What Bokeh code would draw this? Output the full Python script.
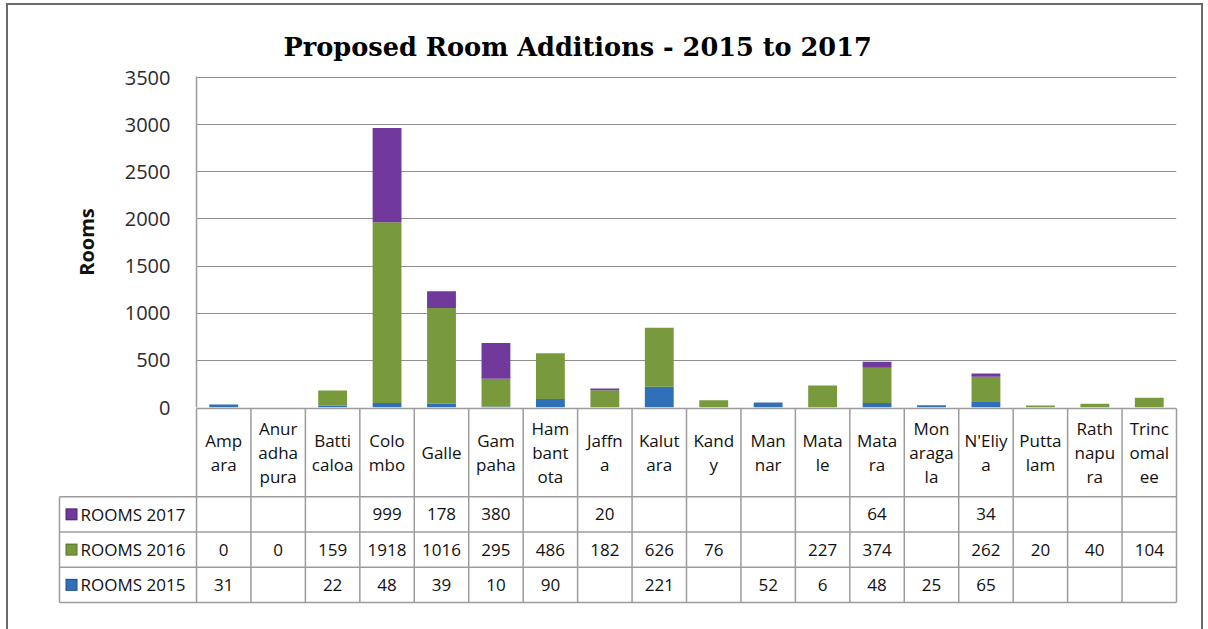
import numpy as np
from bokeh.plotting import figure
from bokeh.models import ColumnDataSource, Range1d, FixedTicker
from bokeh.layouts import column
from bokeh.embed import file_html
from bokeh.resources import INLINE
from bokeh.core.properties import value

# ---------------- data ----------------
districts = ["Ampara", "Anuradhapura", "Batticaloa", "Colombo", "Galle", "Gampaha",
             "Hambantota", "Jaffna", "Kalutara", "Kandy", "Mannar", "Matale", "Matara",
             "Monaragala", "N'Eliya", "Puttalam", "Rathnapura", "Trincomalee"]
district_labels = ["Amp\nara", "Anur\nadha\npura", "Batti\ncaloa", "Colo\nmbo", "Galle",
                   "Gam\npaha", "Ham\nbant\nota", "Jaffn\na", "Kalut\nara", "Kand\ny",
                   "Man\nnar", "Mata\nle", "Mata\nra", "Mon\naraga\nla", "N'Eliy\na",
                   "Putta\nlam", "Rath\nnapu\nra", "Trinc\nomal\nee"]
rooms_2015 = [31, None, 22, 48, 39, 10, 90, None, 221, None, 52, 6, 48, 25, 65, None, None, None]
rooms_2016 = [0, 0, 159, 1918, 1016, 295, 486, 182, 626, 76, None, 227, 374, None, 262, 20, 40, 104]
rooms_2017 = [None, None, None, 999, 178, 380, None, 20, None, None, None, None, 64, None, 34, None, None, None]
series_names = ["ROOMS 2015", "ROOMS 2016", "ROOMS 2017"]
y_ticks = [0, 500, 1000, 1500, 2000, 2500, 3000, 3500]
title_text = "Proposed Room Additions - 2015 to 2017"
y_label = "Rooms"

# ---------------- styling ----------------
colors = ["#3070B8", "#799A3C", "#72399C"]
edges = ["#1F4E85", "#56702A", "#4E2570"]
FONT = "Open Sans"
GRID = "#8f8f8f"
TLINE = "#9c9c9c"

n = len(districts)
W = 1193
FRAME_L = 188          # px from content left to plot frame
FRAME_W = 980
colw = FRAME_W / n     # px per category
GAP = 12               # px of top canvas below the frame (room for the "0" label)

def nz(a):
    return [0 if v is None else v for v in a]

xs = np.arange(n) + 0.5
src = ColumnDataSource(dict(x=xs, r2015=nz(rooms_2015), r2016=nz(rooms_2016), r2017=nz(rooms_2017)))

# ---------------- top chart ----------------
frame_h = 331
top_h = 71 + frame_h + GAP
y_top = y_ticks[-1] + y_ticks[-1] / 330.0
p = figure(width=W, height=top_h, output_backend="svg", toolbar_location=None,
           x_range=Range1d(0, n), y_range=Range1d(0, y_top),
           min_border_left=FRAME_L, min_border_right=W - FRAME_L - FRAME_W,
           min_border_top=71, min_border_bottom=GAP)
p.outline_line_color = None
p.xaxis.visible = False
p.xgrid.visible = False
p.ygrid.ticker = FixedTicker(ticks=y_ticks)
p.ygrid.grid_line_color = GRID
p.ygrid.grid_line_width = 1
p.yaxis.ticker = FixedTicker(ticks=y_ticks)
p.yaxis.axis_line_color = TLINE
p.yaxis.axis_line_width = 1.5
p.yaxis.major_tick_line_color = None
p.yaxis.minor_tick_line_color = None
p.yaxis.major_tick_out = 0
p.yaxis.major_tick_in = 0
p.yaxis.major_label_standoff = 26
p.yaxis.major_label_text_font = FONT
p.yaxis.major_label_text_font_size = "20px"
p.yaxis.major_label_text_color = "#2b2b2b"
p.yaxis.axis_label = y_label
p.yaxis.axis_label_text_font = FONT
p.yaxis.axis_label_text_font_size = "20px"
p.yaxis.axis_label_text_font_style = "bold"
p.yaxis.axis_label_text_color = "#111111"
p.yaxis.axis_label_standoff = 22

p.title.text = title_text
p.title.text_font = "DejaVu Serif"
p.title.text_font_style = "bold"
p.title.text_font_size = "25.6px"
p.title.text_color = "#000000"
p.title.align = "left"
p.title.offset = 87
p.title.standoff = 29

p.vbar_stack(["r2015", "r2016", "r2017"], x="x", width=0.53, source=src,
             fill_color=colors, line_color=None)

# ---------------- data table (overlaps the top canvas by GAP px) ----------------
bot_h = 222
px_row = 194 / 5.5
hdr_top = 5.5
rows = 3
y_end = hdr_top + 1.0 / px_row
b = figure(width=W, height=bot_h, output_backend="svg", toolbar_location=None,
           x_range=Range1d(0, n), y_range=Range1d(y_end - bot_h / px_row, y_end),
           min_border_left=FRAME_L, min_border_right=W - FRAME_L - FRAME_W,
           min_border_top=0, min_border_bottom=0)
b.margin = (-GAP, 0, 0, 0)
b.axis.visible = False
b.grid.visible = False
b.outline_line_color = None
b.background_fill_color = None
b.border_fill_color = None

leg_left = -137 / colw

# horizontal lines
hx0 = [0] + [leg_left] * (rows + 1)
hx1 = [n] * (rows + 2)
hy = [hdr_top] + list(range(rows, -1, -1))
b.segment(x0=hx0, y0=hy, x1=hx1, y1=hy, line_color=TLINE, line_width=1.5, level="overlay")
# vertical lines
vx = list(range(n + 1)) + [leg_left]
vy0 = [0] * (n + 2)
vy1 = [hdr_top] * (n + 1) + [rows]
b.segment(x0=vx, y0=vy0, x1=vx, y1=vy1, line_color=TLINE, line_width=1.5, level="overlay")

# header labels
b.text(x=xs, y=[(rows + hdr_top) / 2] * n, text=district_labels,
       text_font=value(FONT), text_font_size="17px", text_align="center",
       text_baseline="middle", text_line_height=1.05, text_color="#111111")

# values
tx, ty, tt = [], [], []
for r, series in enumerate([rooms_2015, rooms_2016, rooms_2017]):
    for i, v in enumerate(series):
        if v is not None:
            tx.append(i + 0.5)
            ty.append(r + 0.5)
            tt.append(str(v))
b.text(x=tx, y=ty, text=tt, text_font=value(FONT), text_font_size="17px",
       text_align="center", text_baseline="middle", text_color="#111111")

# legend keys inside the table (small squares drawn as thick short strokes)
ly = [r + 0.5 for r in range(rows)]
kx0 = leg_left + 6 / colw
b.segment(x0=[kx0] * rows, y0=ly, x1=[kx0 + 12 / colw] * rows, y1=ly,
          line_color=edges, line_width=12, line_cap="butt", level="overlay")
b.segment(x0=[kx0 + 1 / colw] * rows, y0=ly, x1=[kx0 + 11 / colw] * rows, y1=ly,
          line_color=colors, line_width=10, line_cap="butt", level="overlay")
b.text(x=[leg_left + 21 / colw] * rows, y=ly, text=series_names,
       text_font=value(FONT), text_font_size="17px", text_align="left",
       text_baseline="middle", text_color="#111111", level="overlay")

layout = column(p, b, spacing=0,
                styles={"margin-left": "6px", "margin-top": "3px",
                        "border-left": "2px solid #6a6a6a",
                        "border-top": "2px solid #6a6a6a",
                        "border-right": "2px solid #6a6a6a"})

open("out.html", "w").write(file_html(layout, INLINE))
